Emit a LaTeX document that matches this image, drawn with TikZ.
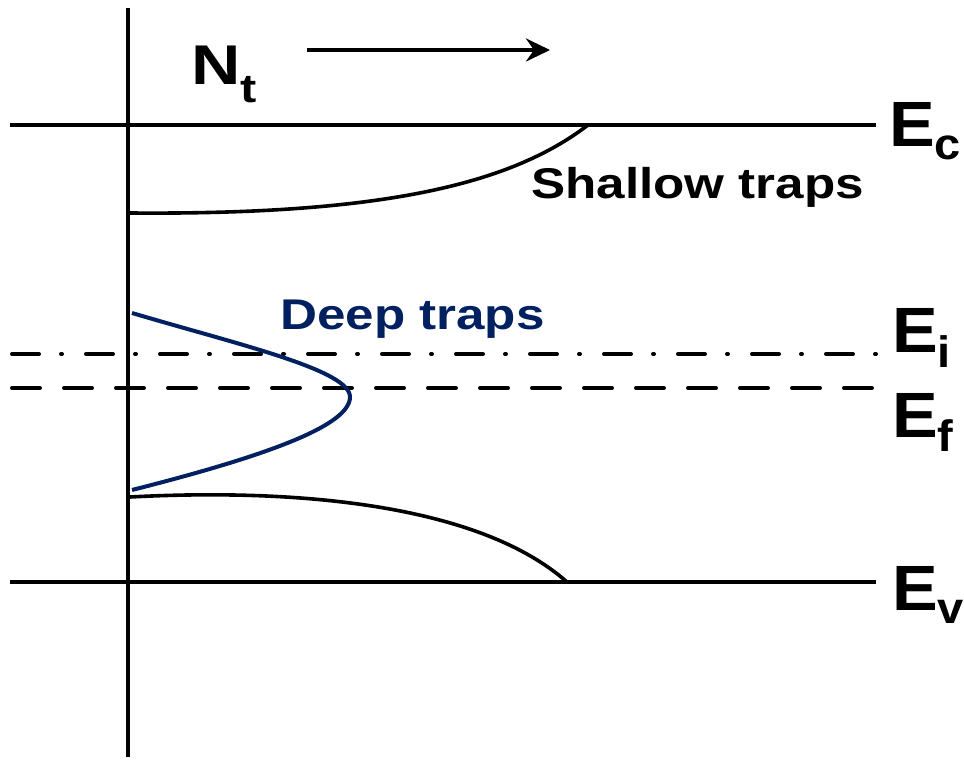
\documentclass[tikz,border=0pt]{standalone}
\usepackage{fontspec}
\setmainfont{Liberation Sans}
\usetikzlibrary{arrows.meta}
\definecolor{deepblue}{RGB}{0,32,96}
\begin{document}
\begin{tikzpicture}[x=1pt,y=-1pt,
  level/.style={line width=4pt},
  curve/.style={line width=3.6pt},
  elbl/.style={inner sep=0pt, anchor=base west, font=\bfseries\fontsize{64}{64}\selectfont},
  tlbl/.style={inner sep=0pt, anchor=base west, font=\bfseries\fontsize{43}{43}\selectfont}]
\useasboundingbox (0,0) rectangle (964,762);
% coordinates
\coordinate (axT) at (128,8);
\coordinate (axB) at (128,757);
\coordinate (cL) at (10,125);  \coordinate (cR) at (876,125);
\coordinate (vL) at (10,582);  \coordinate (vR) at (876,582);
\coordinate (iL) at (12,354);  \coordinate (iR) at (876,354);
\coordinate (fL) at (12,388);  \coordinate (fR) at (876,388);
\coordinate (arA) at (307,50); \coordinate (arB) at (550,50);
% axis and levels
\draw[level] (axT) -- (axB);
\draw[level] (cL) -- (cR);
\draw[level] (vL) -- (vR);
\draw[level, line cap=round, dash pattern=on 27pt off 22pt on 1pt off 24pt] (iL) -- (iR);
\draw[level, line cap=round, dash pattern=on 28pt off 24pt] (fL) -- (fR);
% arrow
\draw[level, -{Stealth[length=24pt,width=23pt,inset=8pt]}] (arA) -- (arB);
% trap distributions
\draw[curve] (130,213) .. controls (380,215) and (510,185) .. (588,125);
\draw[curve] (130,497) .. controls (300,488) and (480,505) .. (567,582);
\draw[line width=4pt, deepblue] (132,313) .. controls (240,345) and (350,370) .. (350,397)
  .. controls (350,425) and (270,455) .. (132,490);
% labels
\node[elbl] (Nt) at (191,85) {\fontsize{56}{56}\selectfont\scalebox{1.22}[1]{N\raisebox{-18pt}{\fontsize{40}{40}\selectfont t}}};
\node[elbl] (Ec) at (889,147) {\scalebox{1.07}[1]{E\raisebox{-13pt}{\fontsize{44}{44}\selectfont c}}};
\node[elbl] (Ei) at (892,352) {\scalebox{1.07}[1]{E\raisebox{-15pt}{\fontsize{44}{44}\selectfont i}}};
\node[elbl] (Ef) at (892,437) {\scalebox{1.07}[1]{E\raisebox{-14pt}{\fontsize{44}{44}\selectfont f}}};
\node[elbl] (Ev) at (892,610) {\scalebox{1.07}[1]{E\raisebox{-13pt}{\fontsize{44}{44}\selectfont v}}};
\node[tlbl] (shallow) at (531,199) {\scalebox{1.19}[1]{Shallow traps}};
\node[tlbl, text=deepblue] (deep) at (280,329) {\scalebox{1.19}[1]{Deep traps}};
\end{tikzpicture}
\end{document}
